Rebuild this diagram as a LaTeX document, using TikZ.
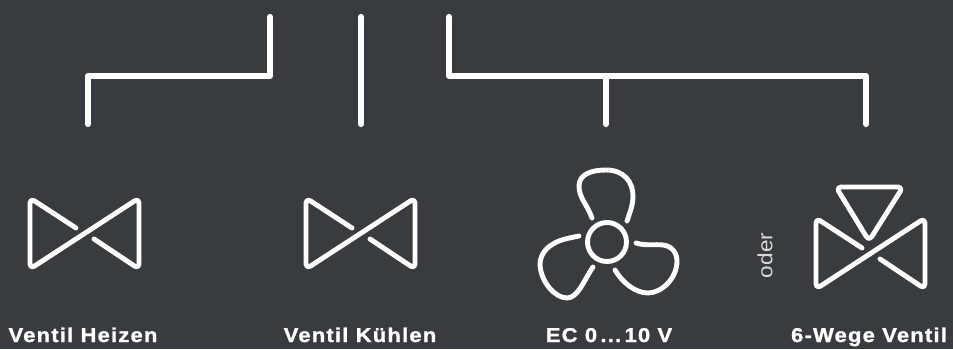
\documentclass[tikz,border=0pt]{standalone}
\usepackage{fontspec}
\setmainfont{Liberation Sans}
\newfontfamily\labelfont[FakeStretch=1.1, LetterSpace=6, BoldFeatures={FakeBold=1.2}]{Liberation Sans}
\newfontfamily\orfont[FakeStretch=1.1]{Liberation Sans}
\usetikzlibrary{positioning}
\definecolor{panel}{HTML}{383C3E}
\definecolor{muted}{HTML}{D8D9D9}

\tikzset{
  wire/.style={draw=white, line width=6.2pt, line cap=round, line join=round},
  icon/.style={draw=white, line width=4.9pt, line cap=round, line join=round},
  caption/.style={font=\labelfont\bfseries\fontsize{20}{22}\selectfont, text=white, inner sep=0pt, anchor=base},
  pics/ventil/.style={code={
    \draw[icon, rounded corners=5pt] (16,-14) -- (-30,-44) -- (-30,27) -- (79,-44) -- (79,27) -- (34,-3);
  }}
}

\begin{document}
\begin{tikzpicture}[x=1pt, y=-1pt]
    \path[fill=panel] (0,0) rectangle (953,349);
    \useasboundingbox (0,0) rectangle (953,349);
    % wiring
    \coordinate (heizenin) at (270,17);
    \coordinate (heizenout) at (88,124);
    \coordinate (kuehlenin) at (361,17);
    \coordinate (kuehlenout) at (361,124);
    \coordinate (ecin) at (449,17);
    \coordinate (ecjoin) at (606,76);
    \coordinate (ecout) at (606,124);
    \coordinate (wegeout) at (866,124);
    \draw[wire] (heizenin) |- (heizenout |- ecjoin) -- (heizenout);
    \draw[wire] (kuehlenin) -- (kuehlenout);
    \draw[wire] (ecin) |- (wegeout |- ecjoin) -- (wegeout);
    \draw[wire] (ecjoin) -- (ecout);
    % valves
    \pic at (60,242) {ventil};
    \pic at (336,242) {ventil};
    \pic at (846,262) {ventil};
    \draw[icon, rounded corners=5pt] (869,241) -- (836,187) -- (903,187) -- cycle;
    % fan
    \node[circle, draw=white, line width=4.9pt, minimum size=39pt, inner sep=0pt] (hub) at (607,242) {};
    \draw[icon] (592,218) .. controls (587,204) and (579,198) .. (579,186)
      .. controls (579,174) and (592,170) .. (606,170)
      .. controls (624,170) and (633,182) .. (633,196)
      .. controls (633,205) and (630,212) .. (627,221);
    \draw[icon] (636,243) .. controls (645,246) and (655,244) .. (663,245)
      .. controls (672,246) and (677,253) .. (677,261)
      .. controls (677,279) and (661,293) .. (648,293)
      .. controls (635,293) and (622,282) .. (615,270);
    \draw[icon] (579,236) .. controls (570,238) and (561,239) .. (553,244)
      .. controls (544,249) and (540,257) .. (540,265)
      .. controls (541,282) and (555,298) .. (567,298)
      .. controls (578,298) and (584,280) .. (593,267);
    % captions
    \node[caption] (heizen) at (83,342) {Ventil Heizen};
    \node[caption] (kuehlen) at (360,342) {Ventil Kühlen};
    \node[caption] (ec) at (609,342) {EC 0\,...\,10 V};
    \node[caption] (wege) at (869,342) {6-Wege Ventil};
    \node[rotate=90, font=\orfont\fontsize{20.5}{22}\selectfont, text=muted, inner sep=0pt] (oder) at (765,255.5) {oder};
  \end{tikzpicture}
\end{document}
